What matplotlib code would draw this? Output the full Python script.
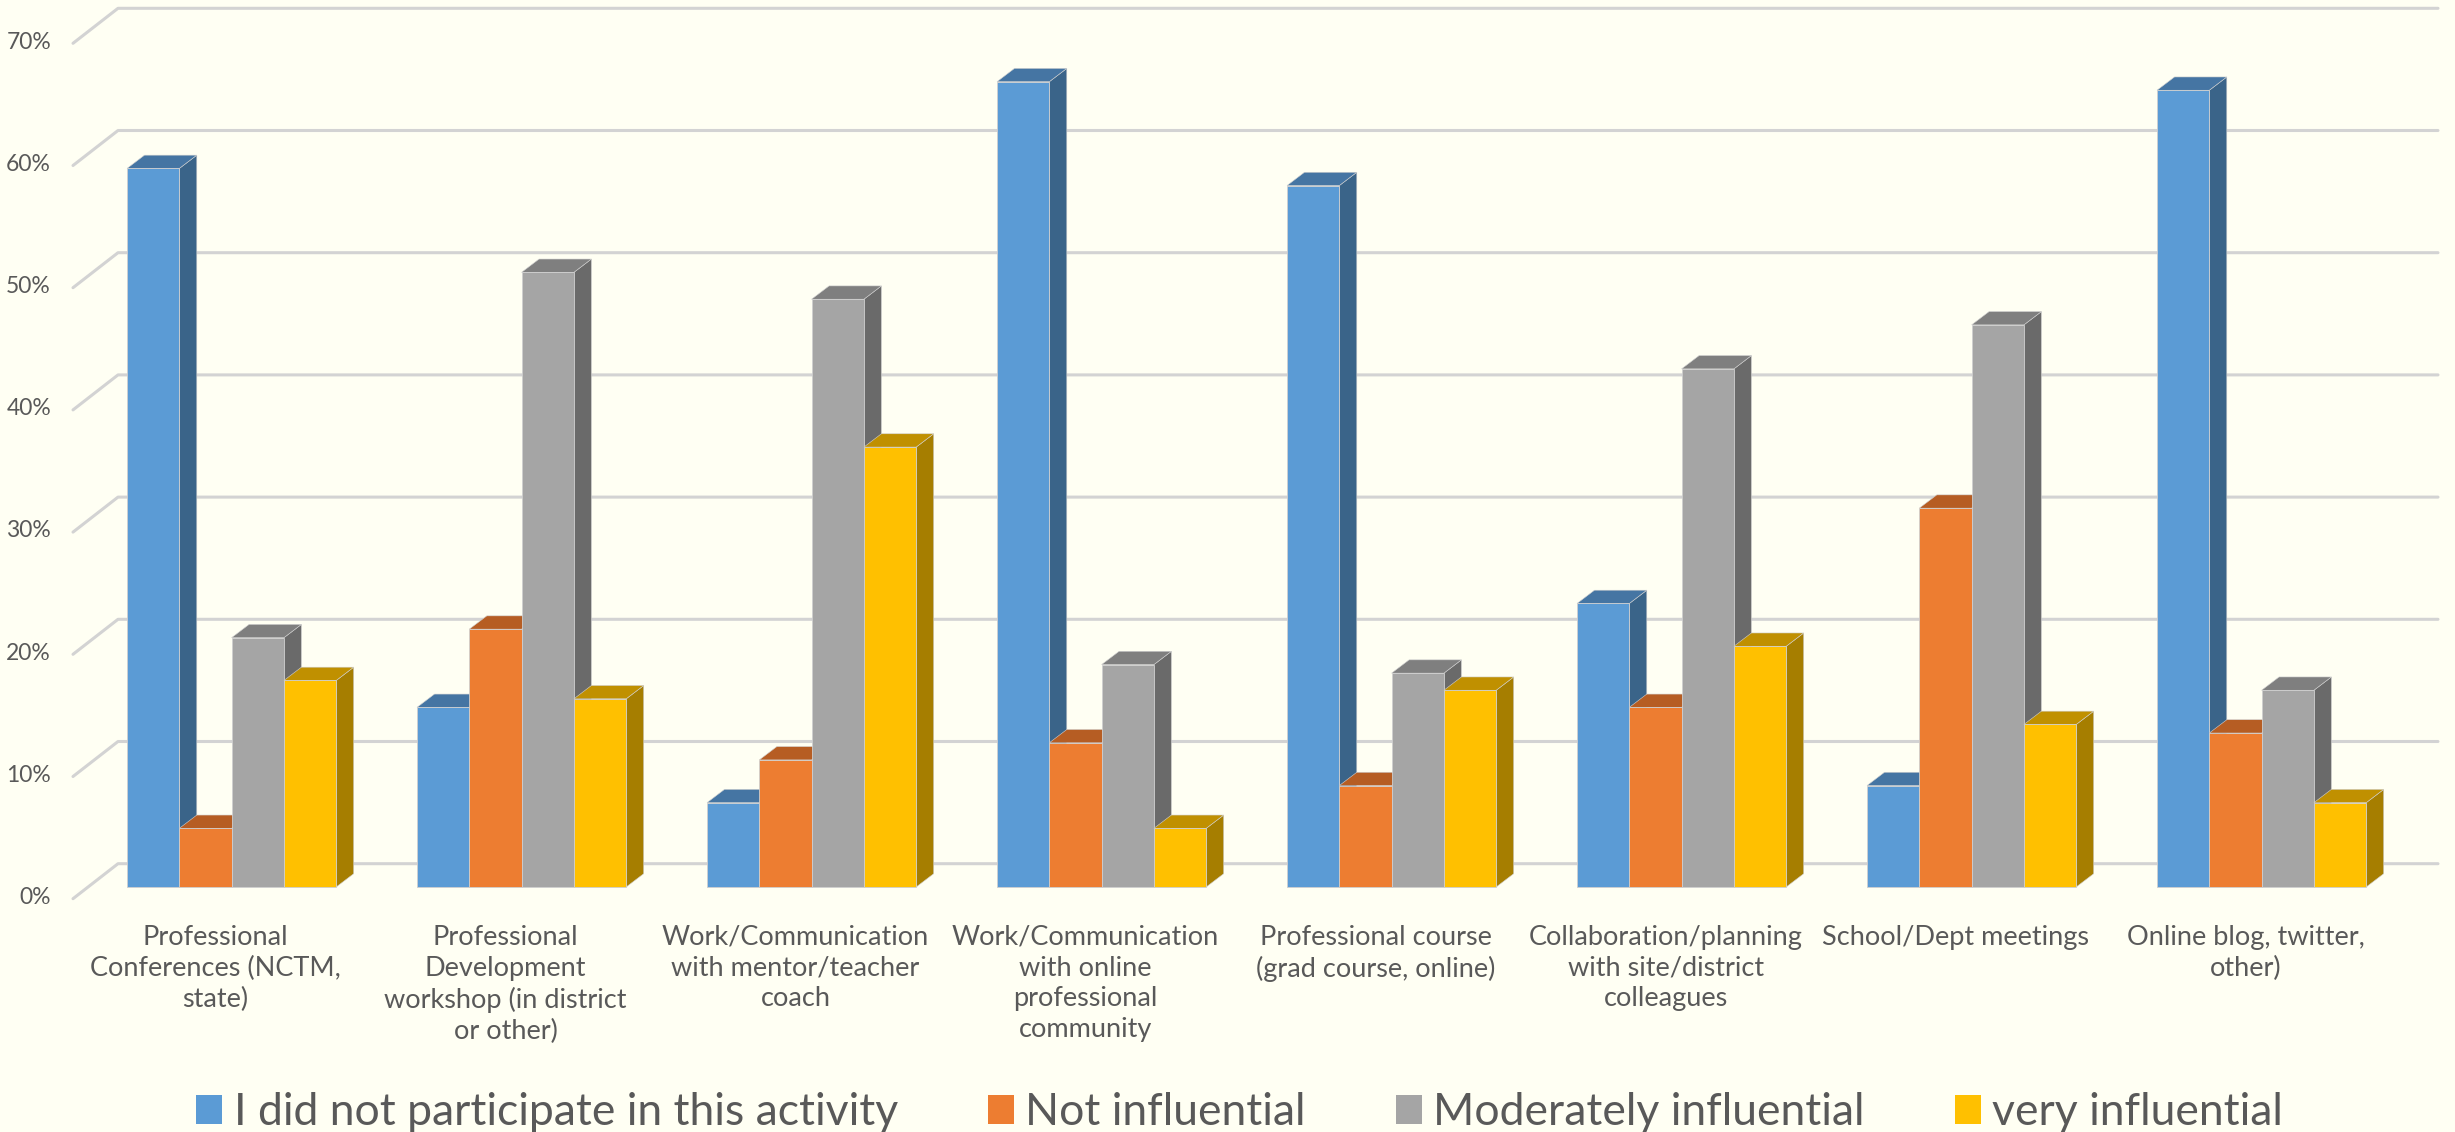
import numpy as np
import matplotlib.pyplot as plt
from matplotlib.patches import Polygon, Patch

# survey results, percent of respondents per activity
categories = [
    'Professional\nConferences (NCTM,\nstate)',
    'Professional\nDevelopment\nworkshop (in district\nor other)',
    'Work/Communication\nwith mentor/teacher\ncoach',
    'Work/Communication\nwith online\nprofessional\ncommunity',
    'Professional course\n(grad course, online)',
    'Collaboration/planning\nwith site/district\ncolleagues',
    'School/Dept meetings',
    'Online blog, twitter,\nother)',
]
series_names = ['I did not participate in this activity', 'Not influential',
                'Moderately influential', 'very influential']
did_not_participate = [58.8, 14.7, 6.9, 65.9, 57.4, 23.2, 8.3, 65.2]
not_influential = [4.8, 21.1, 10.4, 11.8, 8.3, 14.7, 31.0, 12.6]
moderately_influential = [20.4, 50.3, 48.1, 18.2, 17.5, 42.4, 46.0, 16.1]
very_influential = [16.9, 15.4, 36.0, 4.8, 16.1, 19.7, 13.3, 6.9]
series = [did_not_participate, not_influential, moderately_influential, very_influential]
y_ticks = [0, 10, 20, 30, 40, 50, 60, 70]

front_cols = ['#5B9BD5', '#ED7D31', '#A5A5A5', '#FFC000']
top_cols = ['#4575A3', '#B65D23', '#7F7F7F', '#C09000']
side_cols = ['#3A6489', '#9E4F1C', '#6A6A6A', '#A67E00']
BG = '#FFFFF3'
TXT = '#595959'
GRID = '#D3D3D3'

plt.rcParams['font.family'] = ['Lato', 'DejaVu Sans']

W, H = 2455, 1132
fig = plt.figure(figsize=(W / 100, H / 100), dpi=100, facecolor=BG)
ax = fig.add_axes([0, 0, 1, 1])
ax.set_facecolor(BG)
ax.axis('off')

# data units: 1 category = 290 px, 1 % = 12.22 px
PX_CAT = 290.0
PX_PCT = 12.22
X0_PX = 231.6   # centre of first group
Y0_PX = 887.0   # zero line of the bar fronts, from top
ax.set_xlim(-X0_PX / PX_CAT, (W - X0_PX) / PX_CAT)
ax.set_ylim(-(H - Y0_PX) / PX_PCT, Y0_PX / PX_PCT)


def cx(px):
    return (px - X0_PX) / PX_CAT


# walls: back wall sits 23 px deeper, side wall lines go 45 px right / 35 px up
back_dy = 23.3 / PX_PCT
front_dy = -11.7 / PX_PCT
wall_left, wall_front, wall_right = cx(118), cx(73), cx(2438)

for v in y_ticks:
    ax.plot([wall_front, wall_left, wall_right], [v + front_dy, v + back_dy, v + back_dy],
            color=GRID, lw=2.2, solid_capstyle='round', solid_joinstyle='round', zorder=1)
    ax.text(cx(51), v + front_dy + 0.1, f'{v}%', ha='right', va='center',
            fontsize=16.5, color=TXT)

# 3d-looking bars: front from ax.bar, top and side as polygons
bw = 52.3 / PX_CAT
ddx = 17.5 / PX_CAT
ddy = 13.3 / PX_PCT
n = len(categories)
x = np.arange(n)

for k, vals in enumerate(series):
    lefts = x + (k - 2) * bw
    bars = ax.bar(lefts, vals, width=bw, align='edge', color=front_cols[k],
                  edgecolor='#CFCFCF', linewidth=0.6)
    for i, (rect, h) in enumerate(zip(bars, vals)):
        base = 10 + i * 10 + k * 2
        rect.set_zorder(base + 1)
        x0, x1 = lefts[i], lefts[i] + bw
        top = Polygon([(x0, h), (x1, h), (x1 + ddx, h + ddy), (x0 + ddx, h + ddy)],
                      closed=True, facecolor=top_cols[k], edgecolor='#CFCFCF',
                      linewidth=0.4, zorder=base)
        side = Polygon([(x1, 0), (x1 + ddx, ddy), (x1 + ddx, h + ddy), (x1, h)],
                       closed=True, facecolor=side_cols[k], edgecolor='#CFCFCF',
                       linewidth=0.4, zorder=base)
        ax.add_patch(side)
        ax.add_patch(top)

for i, lab in enumerate(categories):
    ax.text(i - 16 / PX_CAT, -3.1, lab, ha='center', va='top', fontsize=19.5,
            color=TXT, linespacing=1.29)

handles = [Patch(facecolor=c) for c in front_cols]
fig.legend(handles, series_names, loc='center', bbox_to_anchor=(0.505, 0.017),
           ncol=4, frameon=False, fontsize=32, labelcolor=TXT,
           handlelength=0.59, handleheight=0.6, handletextpad=0.25,
           columnspacing=2.03)

fig.savefig('out.png', dpi=100, facecolor=BG)
